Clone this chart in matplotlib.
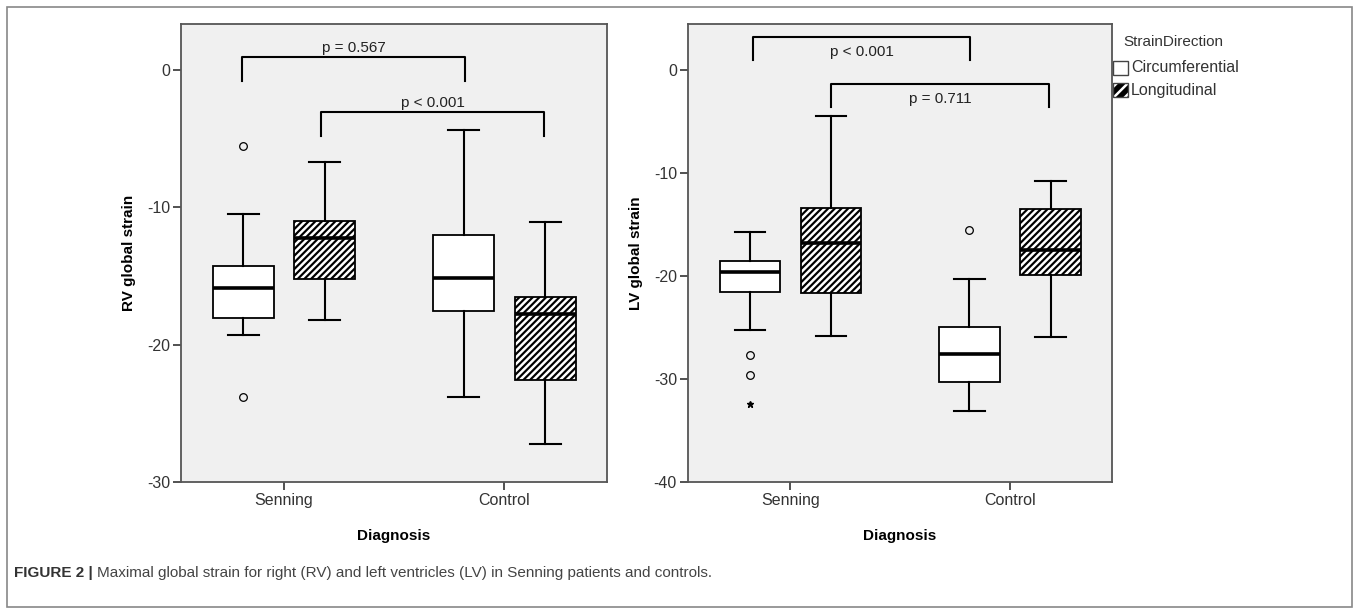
import matplotlib
matplotlib.use("Agg")
import matplotlib.pyplot as plt
from matplotlib.patches import Rectangle, PathPatch

plt.rcParams['font.family'] = ['Liberation Sans', 'DejaVu Sans']
plt.rcParams['hatch.linewidth'] = 1.8

groups = ['Senning', 'Control']
directions = ['Circumferential', 'Longitudinal']

# box stats per group & direction: (whislo, q1, med, q3, whishi)
rv_circ = [(-19.3, -18.05, -15.85, -14.3, -10.45), (-23.8, -17.55, -15.15, -12.05, -4.4)]
rv_long = [(-18.2, -15.25, -12.25, -11.0, -6.7), (-27.2, -22.6, -17.8, -16.55, -11.05)]
rv_circ_out = [[-5.5, -23.8], []]
rv_long_out = [[], []]
rv_circ_ext = [[], []]

lv_circ = [(-25.25, -21.55, -19.6, -18.5, -15.7), (-33.1, -30.25, -27.55, -25.0, -20.25)]
lv_long = [(-25.8, -21.7, -16.8, -13.45, -4.5), (-25.9, -19.95, -17.45, -13.5, -10.8)]
lv_circ_out = [[-27.65, -29.6], [-15.5]]
lv_long_out = [[], []]
lv_circ_ext = [[-32.4], []]

rv_pvals = ['p = 0.567', 'p < 0.001']
lv_pvals = ['p < 0.001', 'p = 0.711']

W, H = 1358, 615
fig = plt.figure(figsize=(W / 100, H / 100), dpi=100)


def px(x0, y0, x1, y1):
    return [x0 / W, 1 - y1 / H, (x1 - x0) / W, (y1 - y0) / H]


def stats(vals, outs):
    lo, q1, med, q3, hi = vals
    return dict(whislo=lo, q1=q1, med=med, q3=q3, whishi=hi, fliers=outs)


def panel(ax, circ, long_, circ_out, long_out, circ_ext, ylim, yticks, ylabel):
    ax.set_facecolor('#f0f0f0')
    off = 0.185
    for k, (data, outs, pos_off) in enumerate([(circ, circ_out, -off), (long_, long_out, off)]):
        st = [stats(data[i], outs[i]) for i in range(2)]
        pos = [i + pos_off for i in range(2)]
        b = ax.bxp(st, positions=pos, widths=0.276, patch_artist=True,
                   showcaps=True, capwidths=0.14,
                   boxprops=dict(lw=1.3),
                   whiskerprops=dict(color='black', lw=1.5),
                   capprops=dict(color='black', lw=1.5),
                   medianprops=dict(color='black', lw=2.6),
                   flierprops=dict(marker='o', markersize=5.5, markerfacecolor='none',
                                   markeredgecolor='black', markeredgewidth=0.9))
        for box in b['boxes']:
            if k == 0:
                box.set_facecolor('white')
                box.set_edgecolor('black')
            else:
                box.set_facecolor('black')
                box.set_edgecolor('white')
                box.set_hatch('/////')
                box.set_linewidth(0)
                ax.add_patch(PathPatch(box.get_path(), fill=False, ec='black', lw=1.3, zorder=box.get_zorder() + 0.1))
    for i in range(2):
        if circ_ext[i]:
            ax.plot([i - off] * len(circ_ext[i]), circ_ext[i], ls='none', marker='*',
                    color='black', markersize=5)
    ax.set_xlim(-0.467, 1.465)
    ax.set_ylim(*ylim)
    ax.set_yticks(yticks)
    ax.set_yticklabels([str(t) for t in yticks])
    ax.set_xticks([0, 1])
    ax.set_xticklabels(groups)
    ax.tick_params(direction='out', length=6, width=1.2, color='#333333', labelsize=11.5,
                   labelcolor='#333333', pad=2)
    for s in ax.spines.values():
        s.set_color('#555555')
        s.set_linewidth(1.3)
    ax.set_ylabel(ylabel, fontsize=11, fontweight='bold', labelpad=8)
    ax.set_xlabel('Diagnosis', fontsize=11, fontweight='bold', labelpad=15)


def bracket(ax, x0, x1, ytop, drop, text, ty, va):
    ax.plot([x0, x0, x1, x1], [ytop - drop, ytop, ytop, ytop - drop], color='black', lw=1.5)
    ax.text((x0 + x1) / 2, ty, text, ha='center', va=va, fontsize=11, color='#222222')


ax1 = fig.add_axes(px(181, 24, 607, 482))
panel(ax1, rv_circ, rv_long, rv_circ_out, rv_long_out, rv_circ_ext, (-30, 3.35), [0, -10, -20, -30],
      'RV global strain')
bracket(ax1, -0.19, 0.82, 0.94, 1.73, rv_pvals[0], 1.1, 'bottom')
bracket(ax1, 0.17, 1.18, -3.05, 1.73, rv_pvals[1], -2.9, 'bottom')

ax2 = fig.add_axes(px(688, 24, 1112, 482))
panel(ax2, lv_circ, lv_long, lv_circ_out, lv_long_out, lv_circ_ext, (-40, 4.46), [0, -10, -20, -30, -40],
      'LV global strain')
bracket(ax2, -0.17, 0.82, 3.15, 2.23, lv_pvals[0], 1.7, 'center')
bracket(ax2, 0.185, 1.18, -1.38, 2.23, lv_pvals[1], -2.85, 'center')

# legend
fig.text(1123 / W, 1 - 42 / H, 'StrainDirection', fontsize=11, color='#333333', va='center', ha='left')
leg_items = [('white', None, 68), ('black', '///', 90)]
for (fc, hatch, yc), name in zip(leg_items, directions):
    r = Rectangle((1113 / W, 1 - (yc + 7) / H), 15 / W, 14 / H, transform=fig.transFigure,
                  facecolor=fc, edgecolor='white' if hatch else '#444444', hatch=hatch,
                  lw=0 if hatch else 1.0)
    fig.patches.append(r)
    if hatch:
        fig.patches.append(Rectangle((1113 / W, 1 - (yc + 7) / H), 15 / W, 14 / H,
                                     transform=fig.transFigure, fill=False, ec='#444444', lw=1.0))
    fig.text(1131 / W, 1 - yc / H, name, fontsize=11.5, color='#333333', va='center', ha='left')

# frame and caption
fig.patches.append(Rectangle((7 / W, 1 - 607 / H), 1345 / W, 600 / H, transform=fig.transFigure,
                             fill=False, ec='#888888', lw=1.2))
t1 = fig.text(14 / W, 1 - 573 / H, 'FIGURE 2 |', fontsize=11, fontweight='bold', color='#333333',
              va='center', ha='left')
fig.canvas.draw()
bb = t1.get_window_extent()
fig.text((bb.x1 + 4) / W, 1 - 573 / H, 'Maximal global strain for right (RV) and left ventricles (LV) '
         'in Senning patients and controls.', fontsize=11, color='#444444', va='center', ha='left')

fig.savefig('out.png', dpi=100)
